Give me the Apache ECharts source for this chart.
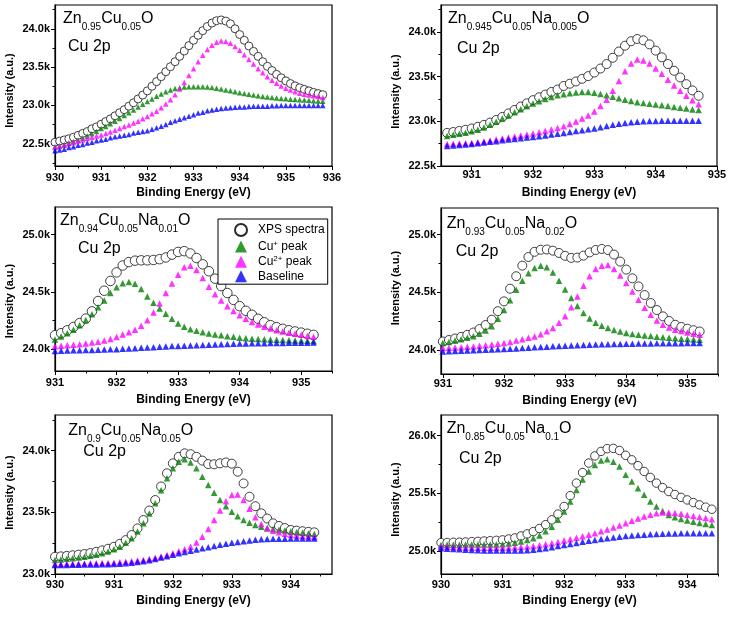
<!DOCTYPE html>
<html>
<head>
<meta charset="utf-8">
<script src="https://cdn.jsdelivr.net/npm/echarts@6/dist/echarts.min.js"></script>
<style>
html, body { margin: 0; padding: 0; background: #fff; }
#chart { width: 730px; height: 623px; }
</style>
</head>
<body>
<div id="chart"></div>
<script>
// binding energies (eV)
const eA = [930.0,930.1,930.2,930.3,930.4,930.5,930.6,930.7,930.8,930.9,
  931.0,931.1,931.2,931.3,931.4,931.5,931.6,931.7,931.8,931.9,
  932.0,932.1,932.2,932.3,932.4,932.5,932.6,932.7,932.8,932.9,
  933.0,933.1,933.2,933.3,933.4,933.5,933.6,933.7,933.8,933.9,
  934.0,934.1,934.2,934.3,934.4,934.5,934.6,934.7,934.8,934.9,
  935.0,935.1,935.2,935.3,935.4,935.5,935.6,935.7,935.8];
const eB = [930.6,930.7,930.8,930.9,
  931.0,931.1,931.2,931.3,931.4,931.5,931.6,931.7,931.8,931.9,
  932.0,932.1,932.2,932.3,932.4,932.5,932.6,932.7,932.8,932.9,
  933.0,933.1,933.2,933.3,933.4,933.5,933.6,933.7,933.8,933.9,
  934.0,934.1,934.2,934.3,934.4,934.5,934.6,934.7];
const eC = [931.0,931.1,931.2,931.3,931.4,931.5,931.6,931.7,931.8,931.9,
  932.0,932.1,932.2,932.3,932.4,932.5,932.6,932.7,932.8,932.9,
  933.0,933.1,933.2,933.3,933.4,933.5,933.6,933.7,933.8,933.9,
  934.0,934.1,934.2,934.3,934.4,934.5,934.6,934.7,934.8,934.9,
  935.0,935.1,935.2];
const eD = [930.0,930.1,930.2,930.3,930.4,930.5,930.6,930.7,930.8,930.9,
  931.0,931.1,931.2,931.3,931.4,931.5,931.6,931.7,931.8,931.9,
  932.0,932.1,932.2,932.3,932.4,932.5,932.6,932.7,932.8,932.9,
  933.0,933.1,933.2,933.3,933.4,933.5,933.6,933.7,933.8,933.9,
  934.0,934.1,934.2,934.3,934.4];

// Zn0.95Cu0.05O
const xps1 = [22520,22535,22550,22565,22585,22610,22635,22660,22695,22720,
  22755,22790,22825,22865,22905,22945,22990,23035,23085,23135,
  23190,23250,23310,23375,23440,23505,23570,23640,23710,23780,
  23850,23915,23975,24030,24075,24105,24115,24100,24065,24000,
  23925,23850,23775,23705,23640,23570,23510,23455,23405,23360,
  23320,23285,23255,23230,23210,23190,23170,23155,23140];
const cup1 = [22460,22475,22490,22510,22530,22550,22575,22600,22630,22660,
  22700,22725,22760,22795,22830,22870,22905,22940,22980,23015,
  23050,23085,23120,23150,23180,23200,23220,23232,23240,23244,
  23245,23245,23244,23240,23235,23225,23215,23200,23190,23178,
  23165,23155,23145,23135,23125,23117,23110,23103,23097,23092,
  23087,23082,23078,23074,23070,23066,23062,23058,23054];
const cu2p1 = [22450,22465,22480,22500,22515,22535,22550,22570,22585,22600,
  22615,22635,22655,22675,22700,22725,22745,22770,22795,22825,
  22855,22890,22925,22970,23020,23075,23140,23215,23300,23390,
  23480,23570,23655,23730,23785,23825,23840,23835,23810,23770,
  23720,23660,23600,23540,23480,23425,23375,23330,23290,23255,
  23225,23200,23180,23160,23145,23135,23125,23115,23105];
const base1 = [22410,22420,22430,22450,22460,22480,22490,22510,22520,22540,
  22550,22560,22580,22590,22600,22610,22620,22640,22650,22660,
  22670,22690,22710,22730,22750,22780,22800,22820,22840,22860,
  22880,22900,22910,22930,22940,22950,22960,22965,22970,22975,
  22980,22980,22985,22990,22990,22990,22990,22995,22995,23000,
  23000,23000,23000,23000,23000,23000,23000,23000,23000];

// Zn0.945Cu0.05Na0.005O
const xps2 = [22870,22880,22892,22905,22920,22938,22960,22985,23015,23049,
  23088,23127,23165,23201,23236,23268,23298,23328,23355,23395,
  23420,23445,23475,23505,23545,23590,23640,23710,23780,23845,
  23895,23920,23905,23860,23790,23715,23640,23565,23490,23415,
  23345,23285];
const cup2 = [22835,22848,22860,22873,22888,22905,22930,22960,22995,23030,
  23065,23100,23135,23168,23198,23225,23250,23272,23290,23302,
  23314,23322,23328,23326,23318,23305,23290,23275,23258,23240,
  23226,23214,23203,23195,23187,23178,23170,23160,23150,23142,
  23133,23125];
const cu2p2 = [22745,22748,22751,22754,22758,22765,22775,22785,22796,22807,
  22818,22829,22840,22851,22863,22876,22890,22907,22925,22945,
  22970,22998,23030,23065,23110,23170,23240,23340,23450,23560,
  23645,23690,23680,23645,23590,23530,23465,23400,23340,23285,
  23235,23190];
const base2 = [22725,22730,22735,22740,22745,22755,22762,22770,22778,22788,
  22795,22802,22810,22818,22825,22833,22842,22851,22860,22870,
  22880,22890,22900,22910,22920,22933,22946,22960,22972,22982,
  22990,22996,23000,23002,23004,23005,23005,23006,23006,23006,
  23006,23006];

// Zn0.94Cu0.05Na0.01O
const xps3 = [24122,24140,24165,24194,24228,24267,24330,24420,24510,24595,
  24670,24730,24760,24772,24775,24775,24778,24785,24800,24825,
  24848,24855,24835,24795,24740,24680,24615,24550,24490,24430,
  24375,24335,24300,24265,24235,24210,24192,24178,24165,24155,
  24145,24135,24125];
const cup3 = [24085,24110,24140,24170,24210,24255,24305,24365,24425,24490,
  24540,24575,24587,24570,24525,24460,24405,24355,24310,24265,
  24225,24195,24175,24160,24148,24138,24129,24121,24114,24108,
  24100,24096,24092,24089,24086,24084,24082,24080,24078,24076,
  24075,24073,24072];
const cu2p3 = [24026,24030,24034,24039,24044,24050,24058,24066,24076,24090,
  24107,24128,24148,24170,24205,24253,24320,24398,24490,24572,
  24650,24715,24728,24690,24620,24545,24480,24425,24375,24333,
  24296,24265,24238,24215,24196,24180,24166,24154,24144,24134,
  24125,24116,24108];
const base3 = [23985,23987,23988,23990,23991,23993,23994,23996,23997,23999,
  24000,24003,24006,24009,24012,24015,24018,24021,24024,24027,
  24029,24031,24033,24035,24037,24039,24041,24043,24045,24047,
  24049,24050,24051,24052,24053,24054,24055,24055,24056,24056,
  24057,24057,24058];

// Zn0.93Cu0.05Na0.02O
const xps4 = [24072,24085,24098,24112,24130,24150,24180,24215,24261,24335,
  24420,24530,24638,24730,24805,24850,24868,24870,24860,24840,
  24815,24797,24800,24817,24845,24866,24875,24865,24826,24765,
  24696,24620,24550,24475,24406,24345,24290,24250,24217,24198,
  24183,24170,24159];
const cup4 = [24058,24068,24080,24092,24104,24118,24140,24168,24205,24270,
  24345,24430,24520,24600,24665,24710,24730,24715,24670,24600,
  24522,24450,24380,24320,24272,24235,24208,24188,24172,24158,
  24146,24138,24131,24125,24119,24114,24109,24104,24100,24096,
  24093,24090,24087];
const cu2p4 = [24015,24018,24020,24023,24026,24029,24034,24040,24046,24052,
  24058,24068,24080,24092,24104,24116,24135,24160,24189,24235,
  24290,24370,24463,24555,24638,24700,24730,24735,24700,24645,
  24580,24505,24435,24365,24304,24255,24217,24193,24174,24162,
  24150,24140,24130];
const base4 = [23986,23988,23990,23992,23994,23996,23998,24000,24002,24004,
  24006,24009,24012,24015,24018,24021,24024,24027,24030,24033,
  24035,24037,24039,24041,24043,24045,24047,24049,24050,24051,
  24052,24053,24054,24055,24055,24056,24056,24057,24057,24057,
  24058,24058,24058];

// Zn0.9Cu0.05Na0.05O
const xps5 = [23140,23143,23147,23152,23157,23162,23170,23180,23192,23205,
  23221,23245,23275,23316,23370,23438,23515,23600,23710,23817,
  23898,23951,23979,23972,23951,23920,23892,23890,23898,23905,
  23895,23830,23735,23627,23550,23492,23450,23411,23390,23373,
  23357,23352,23347,23342,23338];
const cup5 = [23114,23118,23123,23128,23134,23140,23148,23157,23168,23182,
  23200,23222,23253,23290,23345,23411,23490,23573,23680,23776,
  23857,23910,23930,23905,23857,23790,23722,23660,23600,23550,
  23505,23468,23438,23415,23398,23384,23374,23366,23359,23352,
  23344,23339,23334,23329,23324];
const cu2p5 = [23081,23082,23083,23084,23085,23086,23087,23088,23089,23090,
  23092,23095,23099,23104,23109,23114,23122,23131,23141,23154,
  23168,23184,23200,23221,23255,23303,23365,23438,23515,23590,
  23640,23645,23600,23530,23460,23405,23370,23350,23338,23326,
  23318,23313,23309,23306,23303];
const base5 = [23073,23074,23074,23075,23076,23077,23078,23078,23079,23080,
  23081,23084,23088,23092,23097,23103,23112,23122,23133,23145,
  23157,23168,23178,23188,23198,23208,23218,23228,23237,23246,
  23254,23260,23266,23272,23277,23281,23283,23285,23286,23287,
  23288,23288,23289,23289,23289];

// Zn0.85Cu0.05Na0.1O
const xps6 = [25072,25073,25075,25076,25078,25081,25083,25086,25089,25092,
  25096,25104,25113,25130,25148,25168,25195,25228,25270,25320,
  25386,25480,25589,25680,25763,25825,25864,25888,25890,25872,
  25830,25791,25740,25690,25638,25589,25550,25516,25490,25465,
  25443,25420,25400,25380,25362];
const cup6 = [25052,25053,25054,25054,25055,25055,25056,25056,25057,25057,
  25058,25064,25072,25083,25096,25110,25135,25170,25211,25270,
  25342,25430,25530,25620,25690,25745,25786,25797,25775,25733,
  25661,25603,25545,25487,25430,25385,25347,25313,25292,25277,
  25264,25253,25243,25234,25226];
const cu2p6 = [25038,25036,25034,25032,25030,25029,25028,25028,25028,25028,
  25029,25030,25032,25035,25039,25043,25050,25058,25067,25078,
  25090,25102,25114,25127,25140,25154,25170,25186,25203,25222,
  25241,25262,25281,25298,25315,25327,25333,25333,25329,25322,
  25313,25304,25295,25285,25275];
const base6 = [25023,25020,25017,25014,25011,25008,25006,25004,25003,25003,
  25003,25003,25004,25005,25007,25010,25016,25024,25033,25042,
  25052,25061,25070,25079,25088,25096,25103,25110,25117,25124,
  25130,25134,25138,25141,25145,25148,25150,25151,25152,25153,
  25154,25154,25154,25154,25154];

// tick values
const xTicks1 = [930, 931, 932, 933, 934, 935, 936];
const xMinor1 = [930.5, 931.5, 932.5, 933.5, 934.5, 935.5];
const xTicks2 = [931, 932, 933, 934, 935];
const xMinor2 = [931.5, 932.5, 933.5, 934.5];
const xMinor3 = [931.5, 932.5, 933.5, 934.5, 935.5];
const xTicks5 = [930, 931, 932, 933, 934];
const xMinor5 = [930.5, 931.5, 932.5, 933.5, 934.5];
const yTicks1 = [22500, 23000, 23500, 24000];
const yMinor1 = [22250, 22750, 23250, 23750, 24250];
const yMinor2 = [22750, 23250, 23750, 24250];
const yTicks3 = [24000, 24500, 25000];
const yMinor3 = [24250, 24750];
const yTicks5 = [23000, 23500, 24000];
const yMinor5 = [23250, 23750, 24250];
const yTicks6 = [25000, 25500, 26000];
const yMinor6 = [25250, 25750];

const names = ['XPS spectra', 'Cu+ peak', 'Cu2+ peak', 'Baseline'];
const labels = [
  '{n|Zn}{s|0.95}{n|Cu}{s|0.05}{n|O}',
  '{n|Zn}{s|0.945}{n|Cu}{s|0.05}{n|Na}{s|0.005}{n|O}',
  '{n|Zn}{s|0.94}{n|Cu}{s|0.05}{n|Na}{s|0.01}{n|O}',
  '{n|Zn}{s|0.93}{n|Cu}{s|0.05}{n|Na}{s|0.02}{n|O}',
  '{n|Zn}{s|0.9}{n|Cu}{s|0.05}{n|Na}{s|0.05}{n|O}',
  '{n|Zn}{s|0.85}{n|Cu}{s|0.05}{n|Na}{s|0.1}{n|O}'
];

const panels = [
  { e: eA, d: [xps1, cup1, cu2p1, base1], rect: [55, 5, 277, 161], x: [930, 936], y: [22210, 24310],
    xt: xTicks1, xm: xMinor1, yt: yTicks1, ym: yMinor1, lm: 6, ng: 20.5, yp: [0, 10, 0, 0], cs: 8, ts: 5.5,
    t1: [63, 10.7], t2: [68, 39] },
  { e: eB, d: [xps2, cup2, cu2p2, base2], rect: [441, 5, 276, 161], x: [930.5, 935], y: [22500, 24300],
    xt: xTicks2, xm: xMinor2, yt: yTicks1, ym: yMinor2, lm: 3, ng: 21, yp: [0, 12, 0, 0], cs: 9, ts: 6.5,
    t1: [448, 10.7], t2: [457, 40.7] },
  { e: eC, d: [xps3, cup3, cu2p3, base3], rect: [55, 207, 277, 164], x: [931, 935.5], y: [23810, 25240],
    xt: xTicks2, xm: xMinor3, yt: yTicks3, ym: yMinor3, lm: 6, ng: 23, yp: [0, 24, 0, 0], cs: 9.5, ts: 6.5,
    t1: [60, 212.3], t2: [78, 240.7] },
  { e: eC, d: [xps4, cup4, cu2p4, base4], rect: [441, 208, 277, 166], x: [930.97, 935.5], y: [23790, 25230],
    xt: xTicks2, xm: xMinor3, yt: yTicks3, ym: yMinor3, lm: 4.5, ng: 20.5, yp: [0, 0, 0, 6], cs: 9, ts: 6.5,
    t1: [446.7, 215.7], t2: [455.7, 244] },
  { e: eD, d: [xps5, cup5, cu2p5, base5], rect: [55, 415, 277, 159], x: [930, 934.7], y: [23000, 24290],
    xt: xTicks5, xm: xMinor5, yt: yTicks5, ym: yMinor5, lm: 5.5, ng: 20.5, yp: [0, 0, 0, 4], cs: 9, ts: 6.5,
    t1: [68.3, 422.3], t2: [83.3, 444] },
  { e: eD, d: [xps6, cup6, cu2p6, base6], rect: [441, 415, 277, 159], x: [930, 934.5], y: [24800, 26180],
    xt: xTicks5, xm: xMinor5, yt: yTicks6, ym: yMinor6, lm: 5, ng: 20.5, yp: [0, 10, 0, 0], cs: 8.5, ts: 6.5,
    t1: [446.7, 420.7], t2: [459, 450.7] }
];

const FONT = 'Liberation Sans, Arial, sans-serif';
const colors = ['#fff', '#008000', '#ff00ff', '#0000ff'];
const kFmt = v => (v / 1000).toFixed(1) + 'k';

const grid = [], xAxis = [], yAxis = [], series = [], graphic = [];
const n = panels.length;

panels.forEach((p, i) => {
  const r = p.rect;
  grid[i] = { left: r[0], top: r[1], width: r[2], height: r[3], show: true,
    borderColor: '#000', borderWidth: 1.2, backgroundColor: 'transparent' };
  // overlay grid for the minor ticks
  grid[n + i] = { left: r[0], top: r[1], width: r[2], height: r[3], show: false };

  xAxis[i] = {
    type: 'value', gridIndex: i, min: p.x[0], max: p.x[1], position: 'bottom',
    name: 'Binding Energy (eV)', nameLocation: 'middle', nameGap: p.ng,
    nameTextStyle: { fontFamily: FONT, fontWeight: 'bold', fontSize: 12, color: '#000' },
    axisLine: { onZero: false, lineStyle: { color: '#000', width: 1.2 } },
    axisTick: { length: 4, lineStyle: { color: '#000', width: 1 }, customValues: p.xt },
    axisLabel: { margin: p.lm, fontFamily: FONT, fontWeight: 'bold', fontSize: 11, color: '#000',
      customValues: p.xt, formatter: v => String(v) },
    splitLine: { show: false }
  };
  yAxis[i] = {
    type: 'value', gridIndex: i, min: p.y[0], max: p.y[1], position: 'left',
    name: 'Intensity (a.u.)', nameLocation: 'middle', nameGap: 40,
    nameTextStyle: { fontFamily: FONT, fontWeight: 'bold', fontSize: 11, color: '#000', padding: p.yp },
    axisLine: { onZero: false, lineStyle: { color: '#000', width: 1.2 } },
    axisTick: { length: 4, lineStyle: { color: '#000', width: 1 }, customValues: p.yt },
    axisLabel: { margin: 5, fontFamily: FONT, fontWeight: 'bold', fontSize: 11, color: '#000',
      customValues: p.yt, formatter: kFmt },
    splitLine: { show: false }
  };
  xAxis[n + i] = {
    type: 'value', gridIndex: n + i, min: p.x[0], max: p.x[1], position: 'bottom',
    axisLine: { show: false }, axisLabel: { show: false }, splitLine: { show: false },
    axisTick: { length: 2.5, lineStyle: { color: '#000', width: 1 }, customValues: p.xm }
  };
  yAxis[n + i] = {
    type: 'value', gridIndex: n + i, min: p.y[0], max: p.y[1], position: 'left',
    axisLine: { show: false }, axisLabel: { show: false }, splitLine: { show: false },
    axisTick: { length: 2.5, lineStyle: { color: '#000', width: 1 }, customValues: p.ym }
  };

  p.d.forEach((vals, k) => {
    series.push({
      name: names[k], type: 'scatter', xAxisIndex: i, yAxisIndex: i, silent: true,
      symbol: k === 0 ? 'circle' : 'triangle',
      symbolSize: k === 0 ? p.cs : p.ts,
      itemStyle: k === 0
        ? { color: '#fff', borderColor: '#2a2a2a', borderWidth: 0.9, opacity: 1 }
        : { color: colors[k] },
      data: p.e.map((x, j) => [x, vals[j]])
    });
  });

  const rich = {
    n: { fontFamily: FONT, fontSize: 16, lineHeight: 22, verticalAlign: 'top', fill: '#000' },
    s: { fontFamily: FONT, fontSize: 10, lineHeight: 10, verticalAlign: 'bottom', fill: '#000' }
  };
  graphic.push({ type: 'text', x: p.t1[0], y: p.t1[1], silent: true,
    style: { text: labels[i], rich: rich, verticalAlign: 'top', align: 'left' } });
  graphic.push({ type: 'text', x: p.t2[0], y: p.t2[1], silent: true,
    style: { text: '{n|Cu 2p}', rich: rich, verticalAlign: 'top', align: 'left' } });
});

const chart = echarts.init(document.getElementById('chart'));
chart.setOption({
  animation: false,
  backgroundColor: '#fff',
  grid: grid,
  xAxis: xAxis,
  yAxis: yAxis,
  legend: {
    data: names, orient: 'vertical', left: 218, top: 219,
    itemWidth: 12, itemHeight: 12, itemGap: 2.4,
    padding: [4, 3, 2, 16], borderColor: '#000', borderWidth: 1, backgroundColor: '#fff',
    selectedMode: false,
    formatter: function (name) {
      if (name === 'Cu+ peak') return '{t|Cu}{u|+}{t| peak}';
      if (name === 'Cu2+ peak') return '{t|Cu}{u|2+}{t| peak}';
      return '{t|' + name + '}';
    },
    textStyle: {
      fontFamily: FONT, fontSize: 12, color: '#000', padding: [0, 0, 0, 6],
      rich: {
        t: { fontFamily: FONT, fontSize: 12, lineHeight: 14, color: '#000' },
        u: { fontFamily: FONT, fontSize: 8, lineHeight: 8, verticalAlign: 'top', color: '#000' }
      }
    }
  },
  series: series,
  graphic: graphic
});
</script>
</body>
</html>
